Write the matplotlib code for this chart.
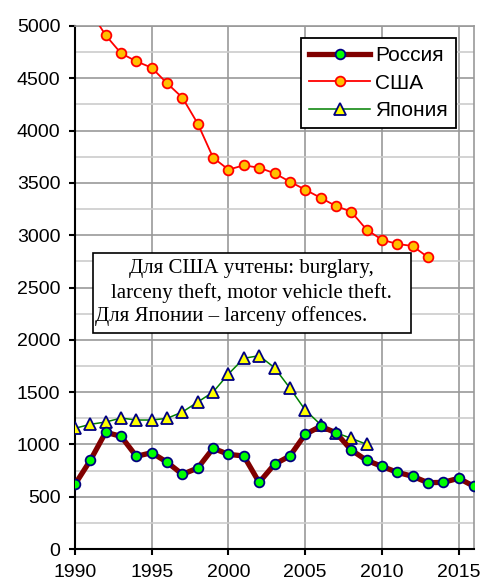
import numpy as np
import matplotlib.pyplot as plt
from matplotlib.patches import Rectangle
from matplotlib.ticker import MultipleLocator

# значения (на 100 тыс. населения)
years_ru = list(range(1990, 2017))
russia = [618, 848, 1116, 1077, 886, 921, 829, 714, 774, 963, 905, 889, 637, 810,
          889, 1096, 1173, 1112, 946, 848, 790, 733, 695, 634, 637, 676, 599]

years_us = list(range(1990, 2014))
usa = [5090, 5140, 4911, 4739, 4662, 4601, 4452, 4315, 4066, 3741, 3627, 3668,
       3645, 3592, 3512, 3435, 3358, 3279, 3225, 3053, 2957, 2916, 2897, 2789]

years_jp = list(range(1990, 2010))
japan = [1154, 1192, 1214, 1252, 1233, 1233, 1249, 1310, 1405, 1501, 1673, 1823,
         1848, 1733, 1539, 1329, 1190, 1112, 1058, 1001]

note_lines = ["Для США учтены: burglary,",
              "larceny theft, motor vehicle theft.",
              "Для Японии – larceny offences."]

plt.rcParams['font.family'] = ['Liberation Sans', 'DejaVu Sans']

fig = plt.figure(figsize=(4.83, 5.83), dpi=100)
ax = fig.add_axes([75/483, 1 - 549/583, 399/483, 523/583])

ax.plot(years_ru, russia, color="#800000", lw=3.8, marker="o", ms=7,
        mfc="#00ff00", mec="#000080", mew=1.3, label="Россия", zorder=5)
ax.plot(years_us, usa, color="#ff0000", lw=1.3, marker="o", ms=7,
        mfc="#ffc000", mec="#ff0000", mew=1.3, label="США", zorder=4)
ax.plot(years_jp, japan, color="#008000", lw=1.1, marker="^", ms=8.5,
        mfc="#ffff00", mec="#000080", mew=1.3, label="Япония", zorder=4)

ax.set_xlim(1990, 2016)
ax.set_ylim(0, 5000)
ax.xaxis.set_major_locator(MultipleLocator(5))
ax.yaxis.set_major_locator(MultipleLocator(500))
ax.yaxis.set_minor_locator(MultipleLocator(250))
ax.grid(which='major', color="#999999", lw=1.2, zorder=0)
ax.grid(which='minor', axis='y', color="#cccccc", lw=1.2, zorder=0)
ax.set_axisbelow(True)
ax.tick_params(which='major', direction='out', length=4.5, width=1.5, labelsize=14)
ax.tick_params(axis='y', pad=6)
ax.tick_params(axis='x', pad=6)
ax.tick_params(which='minor', length=0)
for s in ['top', 'right']:
    ax.spines[s].set_color("#999999")
    ax.spines[s].set_linewidth(1.2)
for s in ['left', 'bottom']:
    ax.spines[s].set_linewidth(1.5)

# пояснение
ax.add_patch(Rectangle((1991.2, 2065), 20.7, 765, facecolor='white',
                       edgecolor='black', lw=1.2, zorder=3))
serif = ['Liberation Serif', 'DejaVu Serif']
ax.text(2001.5, 2686, note_lines[0], ha='center', va='center', fontsize=15,
        family=serif, zorder=6)
ax.text(2001.5, 2447, note_lines[1], ha='center', va='center', fontsize=15,
        family=serif, zorder=6)
ax.text(1991.3, 2230, note_lines[2], ha='left', va='center', fontsize=15,
        family=serif, zorder=6)

leg = ax.legend(loc='upper right', bbox_to_anchor=(0.955, 0.977), fontsize=15,
                frameon=True, fancybox=False, edgecolor='black', framealpha=1,
                handlelength=2.9, handletextpad=0.25, labelspacing=0.4,
                borderpad=0.4, borderaxespad=0)
leg.get_frame().set_linewidth(1.3)
leg.set_zorder(10)

fig.savefig("out.png", dpi=100)
